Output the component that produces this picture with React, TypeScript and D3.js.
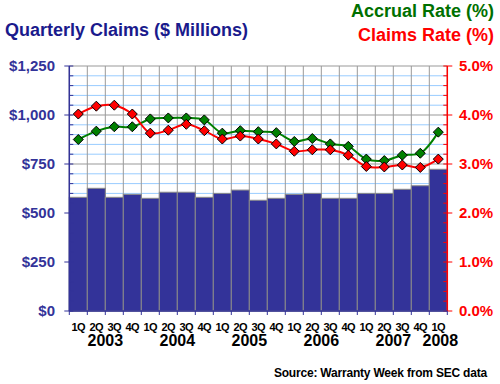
import React from 'react'
import * as d3 from 'd3'

const quarters = ['1Q', '2Q', '3Q', '4Q', '1Q', '2Q', '3Q', '4Q', '1Q', '2Q', '3Q', '4Q', '1Q', '2Q', '3Q', '4Q', '1Q', '2Q', '3Q', '4Q', '1Q']
const years = ['2003', '2004', '2005', '2006', '2007', '2008']
const claims = [580, 626, 580, 595, 575, 606, 606, 580, 600, 617, 565, 575, 595, 600, 575, 575, 600, 600, 621, 639, 723]
const accrualRate = [3.5, 3.67, 3.76, 3.76, 3.92, 3.94, 3.94, 3.9, 3.63, 3.68, 3.66, 3.64, 3.46, 3.52, 3.41, 3.36, 3.1, 3.07, 3.18, 3.22, 3.65]
const claimsRate = [4.02, 4.18, 4.2, 4.02, 3.63, 3.69, 3.81, 3.68, 3.51, 3.57, 3.51, 3.41, 3.26, 3.29, 3.29, 3.18, 2.95, 2.94, 2.98, 2.93, 3.1]
const leftTicks = [0, 250, 500, 750, 1000, 1250]
const rightTicks = [0, 1, 2, 3, 4, 5]

const font = 'Arial, "Liberation Sans", sans-serif'
const navy = '#333399'

const Diamond = ({x, y, fill}) => (
  <path d={`M${x},${y - 5}L${x + 5},${y}L${x},${y + 5}L${x - 5},${y}Z`} fill={fill} stroke="#000" strokeWidth={1} />
)

const App = () => {
  const left = 69.3
  const right = 447.3
  const top = 66
  const bottom = 311
  const idx = quarters.map((q, i) => i)
  const x = d3.scaleBand().domain(idx).range([left, right]).padding(0)
  const yL = d3.scaleLinear().domain([0, 1250]).range([bottom, top])
  const yR = d3.scaleLinear().domain([0, 5]).range([bottom, top])
  const bw = x.bandwidth()
  const cx = i => x(i) + bw / 2
  const minor = d3.range(0, 1251, 50)

  const line = vals =>
    d3
      .line()
      .x((d, i) => cx(i))
      .y(d => yR(d))
      .curve(d3.curveCatmullRom.alpha(0.5))(vals)

  return (
    <svg width={500} height={384} style={{position: 'absolute', left: 0, top: 0}} fontFamily={font}>
      <rect width={500} height={384} fill="#fff" />
      <text x={5} y={36} fontSize={18} fontWeight="bold" fill="#1a1a8c">Quarterly Claims ($ Millions)</text>
      <text x={494} y={17} fontSize={18} fontWeight="bold" fill="#007000" textAnchor="end">Accrual Rate (%)</text>
      <text x={494} y={41} fontSize={18} fontWeight="bold" fill="#ff0000" textAnchor="end">Claims Rate (%)</text>

      {/* grid */}
      {minor.map(v => (
        <line key={'m' + v} x1={left} x2={right} y1={yL(v)} y2={yL(v)} stroke={v % 250 === 0 ? '#999' : '#99ccff'} strokeWidth={1} />
      ))}
      {d3.range(0, quarters.length + 1).map(i => (
        <line key={'v' + i} x1={left + i * bw} x2={left + i * bw} y1={top} y2={bottom} stroke="#999" strokeWidth={1} />
      ))}

      {/* bars */}
      {claims.map((v, i) => (
        <rect key={'b' + i} x={x(i)} y={yL(v)} width={bw} height={bottom - yL(v)} fill={navy} stroke="#8a8a8a" strokeWidth={1} />
      ))}

      {/* lines */}
      <path d={line(accrualRate)} fill="none" stroke="#008000" strokeWidth={2} />
      <path d={line(claimsRate)} fill="none" stroke="#ff0000" strokeWidth={2} />
      {accrualRate.map((v, i) => <Diamond key={'g' + i} x={cx(i)} y={yR(v)} fill="#008000" />)}
      {claimsRate.map((v, i) => <Diamond key={'r' + i} x={cx(i)} y={yR(v)} fill="#ff0000" />)}

      {/* left axis */}
      <line x1={left} x2={left} y1={top} y2={bottom} stroke={navy} strokeWidth={1.5} />
      {minor.map(v => (
        <line key={'lt' + v} x1={v % 250 === 0 ? left - 5 : left} x2={left + 4} y1={yL(v)} y2={yL(v)} stroke={navy} strokeWidth={1} />
      ))}
      {leftTicks.map(v => (
        <text key={'ll' + v} x={55} y={yL(v)} dy="0.36em" fontSize={15} fontWeight="bold" fill={navy} textAnchor="end">
          {d3.format('$,')(v)}
        </text>
      ))}

      {/* right axis */}
      <line x1={right} x2={right} y1={top} y2={bottom} stroke="#ff0000" strokeWidth={1.5} />
      {minor.map(v => (
        <line key={'rt' + v} x1={right - 4} x2={v % 250 === 0 ? right + 5 : right} y1={yL(v)} y2={yL(v)} stroke="#ff0000" strokeWidth={1} />
      ))}
      {rightTicks.map(v => (
        <text key={'rl' + v} x={459} y={yR(v)} dy="0.36em" fontSize={15} fontWeight="bold" fill="#ff0000">
          {d3.format('.1f')(v) + '%'}
        </text>
      ))}

      {/* bottom axis */}
      <line x1={left} x2={right} y1={bottom} y2={bottom} stroke={navy} strokeWidth={1.5} />
      {d3.range(0, quarters.length + 1).map(i => (
        <line key={'bt' + i} x1={left + i * bw} x2={left + i * bw} y1={bottom} y2={bottom + 4} stroke={navy} strokeWidth={1} />
      ))}
      {quarters.map((q, i) => (
        <text key={'q' + i} x={cx(i)} y={331} fontSize={11} fontWeight="bold" fill="#000" textAnchor="middle" letterSpacing={-0.6}>
          {q}
        </text>
      ))}
      {years.map((yr, k) => (
        <text
          key={yr}
          x={k < 5 ? x(k * 4 + 2) : cx(20) + 2}
          y={346}
          fontSize={16}
          fontWeight="bold"
          fill="#000"
          textAnchor="middle"
        >
          {yr}
        </text>
      ))}

      <text x={487} y={377} fontSize={12} fontWeight="bold" fill="#000" textAnchor="end" letterSpacing={-0.2}>
        Source: Warranty Week from SEC data
      </text>
    </svg>
  )
}

export default App
